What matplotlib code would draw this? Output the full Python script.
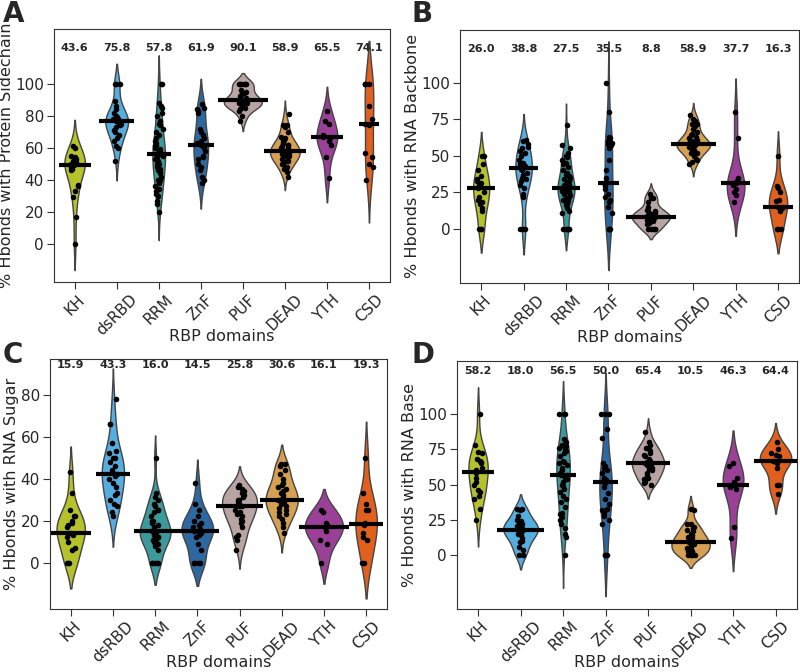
import numpy as np
import pandas as pd
import matplotlib
matplotlib.use("Agg")
import matplotlib.pyplot as plt
import seaborn as sns

domains = ["KH", "dsRBD", "RRM", "ZnF", "PUF", "DEAD", "YTH", "CSD"]
colors = ["#b5c22a", "#55aee0", "#3b9a9b", "#2e68a0", "#b9a4a4", "#d6a052", "#9a4096", "#e2601d"]

# panel A: % Hbonds with protein sidechain
side_vals = {
    "KH": [0, 17, 29, 33, 36, 37, 46, 47, 48, 49, 50, 50, 51, 52, 53, 54, 55, 60, 61, 50],
    "dsRBD": [52, 60, 61, 64, 66, 68, 70, 71, 73, 74, 75, 76, 76, 77, 77, 78, 78, 79, 80, 82, 84, 86, 89, 100, 100, 100],
    "RRM": [20, 25, 27, 30, 31, 33, 34, 36, 38, 40, 40, 42, 44, 45, 46, 47, 48, 50, 50, 52, 53, 54, 55, 56, 56,
            57, 57, 58, 59, 60, 61, 62, 63, 64, 66, 68, 70, 72, 74, 75, 77, 80, 82, 85, 86, 88, 100, 100],
    "ZnF": [38, 40, 42, 46, 48, 50, 53, 54, 55, 58, 60, 62, 63, 64, 66, 68, 70, 72, 82, 83, 84, 85, 87],
    "PUF": [77, 80, 83, 84, 85, 86, 86, 87, 87, 88, 88, 88, 89, 89, 90, 90, 91, 92, 93, 94, 95, 96,
            100, 100, 100, 100, 100, 100],
    "DEAD": [42, 45, 47, 48, 50, 50, 51, 52, 53, 54, 54, 55, 55, 56, 56, 57, 57, 58, 58, 58, 59, 60, 60, 61,
             62, 62, 63, 64, 65, 66, 67, 70, 73, 74, 74, 81],
    "YTH": [41, 54, 62, 64, 66, 67, 68, 75, 77, 83],
    "CSD": [40, 48, 50, 54, 57, 74, 75, 78, 86, 100, 100, 100, 100],
}
side_means = ["43.6", "75.8", "57.8", "61.9", "90.1", "58.9", "65.5", "74.1"]

# panel B: % Hbonds with RNA backbone
backbone_vals = {
    "KH": [0, 0, 0, 12, 14, 17, 18, 20, 22, 25, 28, 29, 30, 31, 33, 34, 36, 40, 44, 50, 50],
    "dsRBD": [0, 0, 0, 22, 24, 28, 30, 33, 34, 35, 37, 38, 40, 41, 42, 42, 43, 44, 45, 47, 50, 52, 53, 55, 56,
              58, 60, 61],
    "RRM": [0, 0, 0, 0, 0, 11, 12, 14, 16, 17, 18, 19, 20, 21, 22, 23, 24, 25, 25, 26, 26, 27, 27, 27, 28, 28,
            29, 30, 30, 31, 32, 33, 34, 35, 36, 37, 38, 40, 42, 44, 45, 46, 47, 49, 50, 50, 52, 55, 57, 71],
    "ZnF": [0, 0, 0, 0, 11, 15, 18, 20, 22, 24, 27, 29, 31, 35, 40, 47, 55, 57, 58, 59, 60, 62, 63, 80, 100],
    "PUF": [0, 0, 0, 0, 0, 3, 4, 5, 6, 6, 7, 7, 8, 8, 8, 9, 9, 10, 10, 11, 12, 12, 13, 15, 18, 21, 21, 22, 24],
    "DEAD": [44, 46, 47, 48, 50, 52, 52, 53, 54, 55, 55, 56, 56, 56, 57, 57, 57, 58, 58, 58, 59, 59, 60, 60,
             61, 62, 63, 64, 65, 66, 68, 70, 72, 72, 74, 75, 78],
    "YTH": [18, 23, 25, 27, 30, 31, 32, 33, 35, 62, 80],
    "CSD": [0, 0, 0, 12, 14, 15, 15, 19, 20, 25, 28, 29, 50],
}
backbone_means = ["26.0", "38.8", "27.5", "35.5", "8.8", "58.9", "37.7", "16.3"]

# panel C: % Hbonds with RNA sugar
sugar_vals = {
    "KH": [0, 0, 0, 6, 7, 10, 12, 13, 14, 14, 17, 18, 19, 20, 22, 22, 25, 33, 43],
    "dsRBD": [22, 24, 27, 28, 30, 32, 33, 36, 38, 40, 41, 42, 42, 43, 44, 46, 48, 50, 50, 52, 53, 57, 66, 66, 78],
    "RRM": [0, 0, 0, 0, 0, 6, 8, 9, 10, 11, 11, 12, 12, 13, 13, 14, 14, 15, 15, 15, 16, 17, 18, 19, 20, 20,
            22, 24, 25, 25, 27, 28, 30, 31, 33, 50],
    "ZnF": [0, 0, 0, 0, 6, 9, 12, 13, 14, 15, 15, 16, 17, 18, 19, 20, 22, 25, 28, 38],
    "PUF": [6, 11, 12, 13, 17, 19, 20, 21, 22, 23, 24, 25, 27, 27, 28, 29, 30, 30, 31, 32, 33, 34, 35, 36, 37],
    "DEAD": [14, 17, 19, 21, 22, 23, 24, 25, 26, 27, 28, 29, 30, 30, 30, 31, 32, 33, 34, 35, 36, 37, 38, 40,
             42, 44, 46, 47, 47],
    "YTH": [0, 9, 11, 15, 17, 18, 19, 24, 25],
    "CSD": [0, 0, 11, 12, 14, 18, 19, 25, 25, 28, 33, 50],
}
sugar_means = ["15.9", "43.3", "16.0", "14.5", "25.8", "30.6", "16.1", "19.3"]

# panel D: % Hbonds with RNA base
base_vals = {
    "KH": [25, 33, 40, 42, 45, 46, 50, 52, 55, 58, 60, 62, 65, 66, 67, 68, 72, 73, 78, 100],
    "dsRBD": [0, 0, 4, 6, 9, 10, 12, 14, 15, 16, 17, 18, 18, 19, 20, 21, 22, 23, 24, 25, 28, 32, 33, 33],
    "RRM": [0, 13, 15, 19, 22, 25, 27, 29, 30, 34, 38, 40, 42, 45, 47, 49, 50, 52, 54, 55, 57, 57, 58, 60,
            62, 64, 65, 66, 67, 70, 72, 74, 75, 76, 77, 78, 80, 82, 100, 100, 100],
    "ZnF": [0, 0, 0, 22, 25, 28, 30, 32, 33, 36, 40, 44, 48, 51, 52, 52, 53, 55, 58, 60, 62, 63, 65, 83, 89,
            100, 100, 100],
    "PUF": [50, 51, 52, 54, 55, 57, 58, 60, 61, 62, 63, 64, 65, 65, 66, 67, 68, 70, 71, 72, 74, 75, 76, 78, 80, 87],
    "DEAD": [0, 0, 0, 0, 1, 2, 3, 3, 4, 5, 6, 7, 8, 8, 9, 9, 10, 10, 11, 12, 13, 14, 15, 17, 18, 19, 20, 22,
             22, 32, 33],
    "YTH": [12, 20, 47, 48, 50, 52, 55, 63, 65],
    "CSD": [43, 50, 50, 62, 65, 66, 67, 70, 71, 72, 75, 80],
}
base_means = ["58.2", "18.0", "56.5", "50.0", "65.4", "10.5", "46.3", "64.4"]

sns.set_style("ticks")
plt.rcParams["font.family"] = ["DejaVu Sans"]
np.random.seed(3)

fig = plt.figure(figsize=(8, 6.72), dpi=100)


def panel(rect, vals, means, ylabel, ylim, yticks, text_y, letter, letter_xy):
    ax = fig.add_axes(rect)
    df = pd.DataFrame([(d, v) for d in domains for v in vals[d]], columns=["domain", "value"])
    sns.violinplot(data=df, x="domain", y="value", hue="domain", order=domains, hue_order=domains,
                   palette=colors, saturation=1, inner=None, width=0.9, linewidth=1,
                   linecolor="#444444", common_norm=True, legend=False, ax=ax)
    # violin half widths, used for the median bars
    half = {}
    for coll in ax.collections:
        for p in coll.get_paths():
            xs = p.vertices[:, 0]
            if len(xs) == 0:
                continue
            i = int(round(xs.mean()))
            half[i] = (xs.max() - xs.min()) / 2
    sns.stripplot(data=df, x="domain", y="value", order=domains, color="black", size=4,
                  jitter=0.1, ax=ax, zorder=4)
    for i, d in enumerate(domains):
        med = np.median(vals[d])
        hw = half.get(i, 0.2) + 0.14
        ax.hlines(med, i - hw, i + hw, color="black", lw=3, zorder=6)
        ax.text(i, text_y, means[i], ha="center", va="center", fontsize=8, fontweight="bold")
    ax.set_xlim(-0.5, len(domains) - 0.5)
    ax.set_ylim(*ylim)
    ax.set_yticks(yticks)
    ax.set_xlabel("RBP domains", fontsize=11.5)
    ax.xaxis.set_label_coords(0.5, -0.185)
    ax.set_ylabel(ylabel, fontsize=11.5, labelpad=1)
    ax.tick_params(axis="both", labelsize=11, length=5, pad=2, color="#333333")
    plt.setp(ax.get_xticklabels(), rotation=45, ha="center")
    for s in ax.spines.values():
        s.set_color("#333333")
    fig.text(letter_xy[0], letter_xy[1], letter, fontsize=20, fontweight="bold", va="top")
    return ax


panel([0.067, 0.580, 0.4205, 0.3765], side_vals, side_means, "% Hbonds with Protein Sidechain",
      (-24, 134), [0, 20, 40, 60, 80, 100], 122.5, "A", (0.003, 1.0))
panel([0.575, 0.579, 0.424, 0.3765], backbone_vals, backbone_means, "% Hbonds with RNA Backbone",
      (-37, 136), [0, 25, 50, 75, 100], 123, "B", (0.514, 1.0))
panel([0.062, 0.094, 0.422, 0.372], sugar_vals, sugar_means, "% Hbonds with RNA Sugar",
      (-22, 97), [0, 20, 40, 60, 80], 94, "C", (0.003, 0.492))
panel([0.571, 0.094, 0.425, 0.369], base_vals, base_means, "% Hbonds with RNA Base",
      (-38, 137.6), [0, 25, 50, 75, 100], 130.6, "D", (0.514, 0.492))

fig.savefig("out.png", dpi=100)
